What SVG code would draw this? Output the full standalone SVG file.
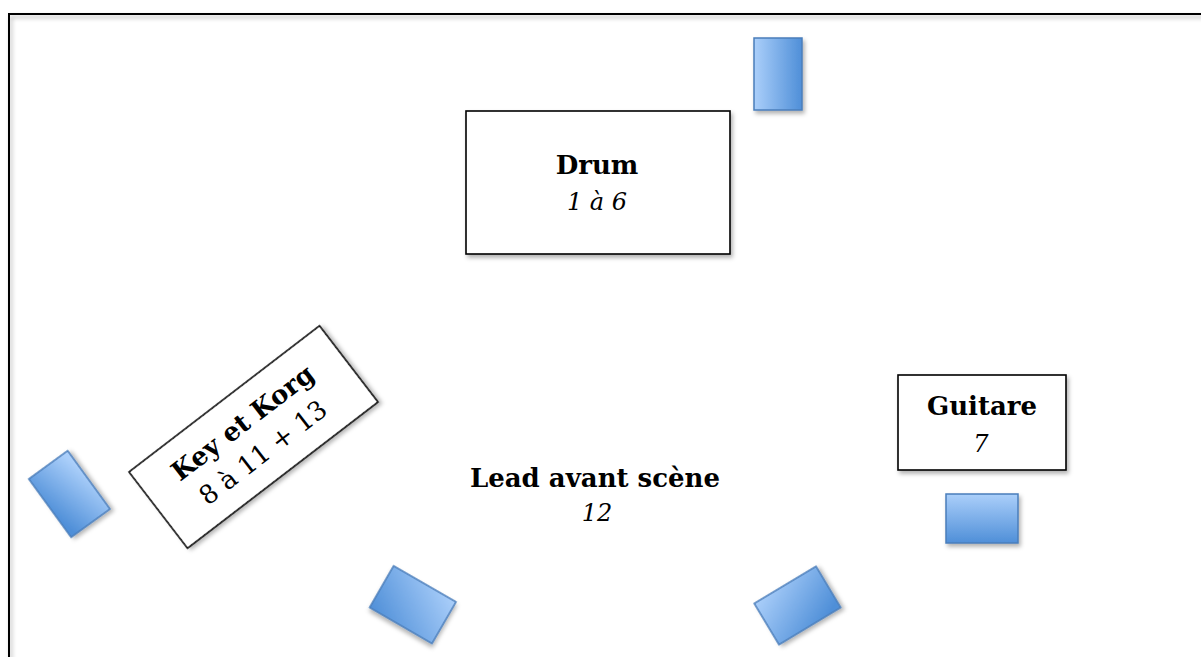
<svg xmlns="http://www.w3.org/2000/svg" width="1201" height="657" viewBox="0 0 1201 657">
  <style>
    .box { fill: #ffffff; stroke: #000000; stroke-width: 1.6; filter: url(#shadow); }
    .mon { stroke: #4a7ebb; stroke-width: 1.5; filter: url(#shadow); }
    .b { font-family: "DejaVu Serif", "Liberation Serif", serif; font-weight: bold; font-size: 26px; fill: #000; text-anchor: middle; }
    .i { font-family: "DejaVu Serif", "Liberation Serif", serif; font-style: italic; font-size: 24px; fill: #000; text-anchor: middle; }
    .r { font-family: "DejaVu Serif", "Liberation Serif", serif; font-size: 26px; fill: #000; text-anchor: middle; }
  </style>
  <defs>
    <filter id="shadow" x="-20%" y="-20%" width="150%" height="150%">
      <feDropShadow dx="2" dy="3" stdDeviation="2" flood-color="#000" flood-opacity="0.3"/>
    </filter>
    <linearGradient id="gLR" x1="0" y1="0" x2="1" y2="0">
      <stop offset="0" stop-color="#abcffa"/>
      <stop offset="1" stop-color="#4f8fd8"/>
    </linearGradient>
    <linearGradient id="gRL" x1="1" y1="0.3" x2="0" y2="0.7">
      <stop offset="0" stop-color="#abcffa"/>
      <stop offset="1" stop-color="#4f8fd8"/>
    </linearGradient>
    <linearGradient id="gTB" x1="0" y1="0" x2="0" y2="1">
      <stop offset="0" stop-color="#abcffa"/>
      <stop offset="1" stop-color="#4f8fd8"/>
    </linearGradient>
    <linearGradient id="gTR" x1="1" y1="0" x2="0" y2="1">
      <stop offset="0" stop-color="#abcffa"/>
      <stop offset="1" stop-color="#4f8fd8"/>
    </linearGradient>
    <linearGradient id="gTL" x1="0" y1="0" x2="0.8" y2="1">
      <stop offset="0" stop-color="#abcffa"/>
      <stop offset="1" stop-color="#4f8fd8"/>
    </linearGradient>
  </defs>
  <rect width="1201" height="657" fill="#ffffff"/>
  <g id="stage">
    <rect x="9" y="14" width="1200" height="660" fill="none" stroke="#000" stroke-width="2" filter="url(#shadow)"/>
  </g>
  <g id="connectors"/>
  <g id="drum">
    <rect class="box" x="466" y="111" width="264" height="143"/>
    <text class="b" x="597" y="174">Drum</text>
    <text class="i" x="597" y="210">1 à 6</text>
  </g>
  <g id="guitare">
    <rect class="box" x="898" y="375" width="168" height="95"/>
    <text class="b" x="982" y="415">Guitare</text>
    <text class="i" x="981" y="452">7</text>
  </g>
  <g id="lead">
    <text class="b" x="595" y="487">Lead avant scène</text>
    <text class="i" x="597" y="521">12</text>
  </g>
  <g id="keys" transform="translate(253.5,437) rotate(-37.5)">
    <rect class="box" x="-120" y="-48" width="240" height="96"/>
    <text class="b" x="0" y="-9">Key et Korg</text>
    <text class="r" x="-2" y="27">8 à 11 + 13</text>
  </g>
  <g id="monitor-drum">
    <rect class="mon" x="754" y="38" width="48" height="72" fill="url(#gLR)"/>
  </g>
  <g id="monitor-guitare">
    <rect class="mon" x="946" y="494" width="72" height="49" fill="url(#gTB)"/>
  </g>
  <g id="monitor-keys" transform="translate(69.4,494) rotate(-36)">
    <rect class="mon" x="-24" y="-36" width="48" height="72" fill="url(#gRL)"/>
  </g>
  <g id="monitor-lead-left" transform="translate(412.8,604.7) rotate(30)">
    <rect class="mon" x="-36" y="-24" width="72" height="48" fill="url(#gTR)"/>
  </g>
  <g id="monitor-lead-right" transform="translate(797.5,605.5) rotate(-31)">
    <rect class="mon" x="-36" y="-24" width="72" height="48" fill="url(#gTL)"/>
  </g>
</svg>
